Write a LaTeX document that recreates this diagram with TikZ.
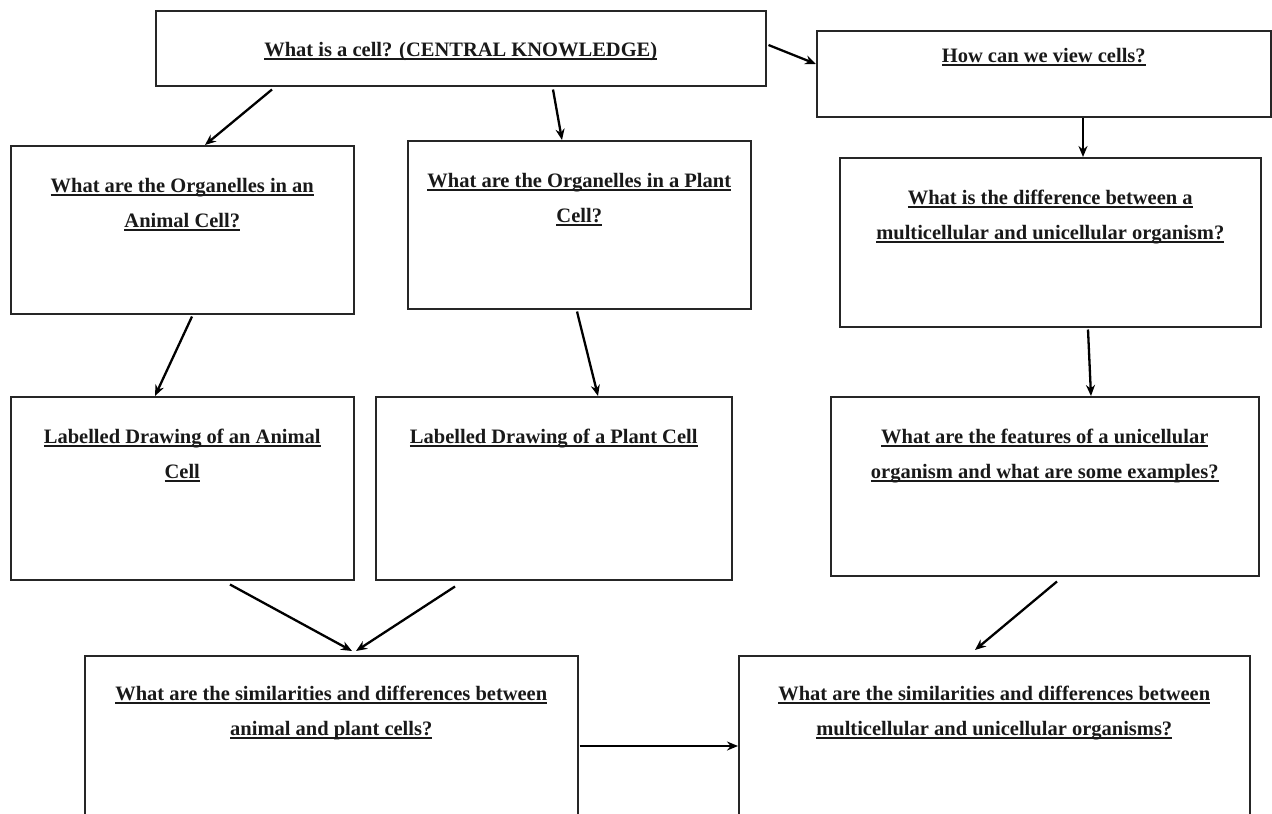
\documentclass[tikz,border=0pt]{standalone}
\usepackage{fontspec}
\setmainfont{Liberation Serif}
\usetikzlibrary{arrows.meta, positioning}

% underlined question line, rule at a fixed depth under the baseline
\newcommand\qline[1]{\setbox0=\hbox{#1}\rlap{\rule[-3.2pt]{\wd0}{1.4pt}}\box0}
\newcommand\qfont{\fontsize{20.5}{35}\selectfont\bfseries}

\begin{document}
\begin{tikzpicture}[x=1pt, y=-1pt,
  qbox/.style={draw=black!85, line width=1.5pt, anchor=north west, inner sep=0pt},
  qtext/.style={font=\qfont, align=center, inner sep=0pt, text=black!90},
  link/.style={line width=2.3pt, -{Stealth[length=11pt, width=9pt]}}
]
\clip (0,0) rectangle (1272,814);

% boxes
\node[qbox, minimum width=610, minimum height=75] (cell) at (155,10) {};
\node[qbox, minimum width=454, minimum height=86] (view) at (816,30) {};
\node[qbox, minimum width=343, minimum height=168] (animalorg) at (10,145) {};
\node[qbox, minimum width=343, minimum height=168] (plantorg) at (407,140) {};
\node[qbox, minimum width=421, minimum height=169] (diff) at (839,157) {};
\node[qbox, minimum width=343, minimum height=183] (animaldraw) at (10,396) {};
\node[qbox, minimum width=356, minimum height=183] (plantdraw) at (375,396) {};
\node[qbox, minimum width=428, minimum height=179] (features) at (830,396) {};
\node[qbox, minimum width=493, minimum height=200] (animalvsplant) at (84,655) {};
\node[qbox, minimum width=511, minimum height=200] (multivsuni) at (738,655) {};

% questions
\node[qtext, below=32pt of cell.north] (cellq) {\qline{What is a cell? (CENTRAL KNOWLEDGE)}};
\node[qtext, below=18pt of view.north] (viewq) {\qline{How can we view cells?}};
\node[qtext, below=33pt of animalorg.north] (animalorgq)
  {\qline{What are the Organelles in an}\\\qline{Animal Cell?}};
\node[qtext, below=33pt of plantorg.north] (plantorgq)
  {\qline{What are the Organelles in a Plant}\\\qline{Cell?}};
\node[qtext, below=33pt of diff.north] (diffq)
  {\qline{What is the difference between a}\\\qline{multicellular and unicellular organism?}};
\node[qtext, below=33pt of animaldraw.north] (animaldrawq)
  {\qline{Labelled Drawing of an Animal}\\\qline{Cell}};
\node[qtext, below=33pt of plantdraw.north] (plantdrawq)
  {\qline{Labelled Drawing of a Plant Cell}};
\node[qtext, below=33pt of features.north] (featuresq)
  {\qline{What are the features of a unicellular}\\\qline{organism and what are some examples?}};
\node[qtext, below=31pt of animalvsplant.north] (animalvsplantq)
  {\qline{What are the similarities and differences between}\\\qline{animal and plant cells?}};
\node[qtext, below=31pt of multivsuni.north] (multivsuniq)
  {\qline{What are the similarities and differences between}\\\qline{multicellular and unicellular organisms?}};

% arrows
\draw[link] ([xshift=117pt,yshift=-3pt]cell.south west) -- ([xshift=195pt]animalorg.north west);
\draw[link] ([xshift=398pt,yshift=-3pt]cell.south west) -- ([xshift=155pt]plantorg.north west);
\draw[link] ([xshift=2pt,yshift=-35pt]cell.north east) -- ([yshift=-34pt]view.north west);
\draw[link] ([xshift=267pt]view.south west) -- ([xshift=244pt]diff.north west);
\draw[link] ([xshift=182pt,yshift=-2pt]animalorg.south west) -- ([xshift=145pt]animaldraw.north west);
\draw[link] ([xshift=170pt,yshift=-2pt]plantorg.south west) -- ([xshift=223pt]plantdraw.north west);
\draw[link] ([xshift=249pt,yshift=-2pt]diff.south west) -- ([xshift=261pt]features.north west);
\draw[link] ([xshift=220pt,yshift=-4pt]animaldraw.south west) -- ([xshift=268pt,yshift=4pt]animalvsplant.north west);
\draw[link] ([xshift=80pt,yshift=-6pt]plantdraw.south west) -- ([xshift=272pt,yshift=4pt]animalvsplant.north west);
\draw[link] ([xshift=227pt,yshift=-5pt]features.south west) -- ([xshift=237pt,yshift=5pt]multivsuni.north west);
\draw[link] ([xshift=1pt,yshift=-91pt]animalvsplant.north east) -- ([yshift=-91pt]multivsuni.north west);
\end{tikzpicture}
\end{document}
